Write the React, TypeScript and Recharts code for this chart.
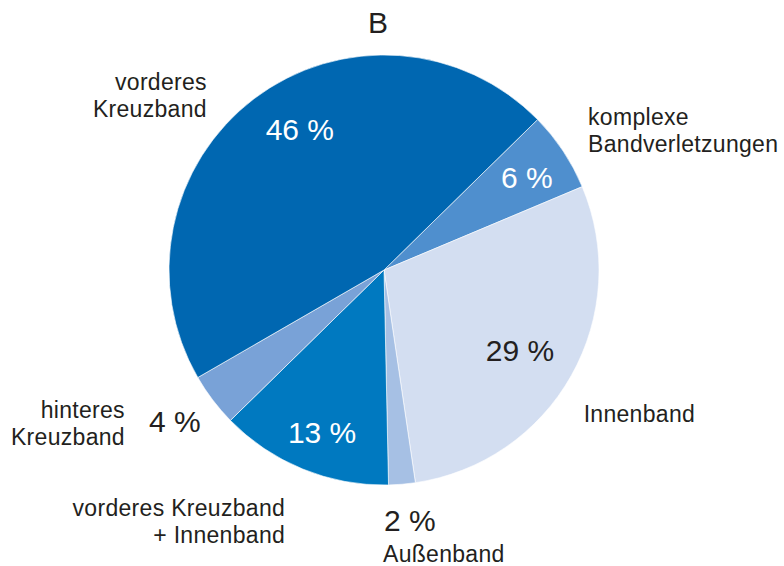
import { Cell, Pie, PieChart } from 'recharts'

// Slice order runs clockwise from the top-right boundary.
const categories = [
  ['komplexe', 'Bandverletzungen'],
  ['Innenband'],
  ['Außenband'],
  ['vorderes Kreuzband', '+ Innenband'],
  ['hinteres', 'Kreuzband'],
  ['vorderes', 'Kreuzband'],
]
const shares = [6, 29, 2, 13, 4, 46]

const COLORS = ['#4f8fce', '#d3def1', '#a6c0e4', '#0079c0', '#79a2d7', '#0067b1']
const PCT_COLORS = ['#ffffff', '#231f20', '#231f20', '#ffffff', '#231f20', '#ffffff']

// label placement in polar terms (degrees, radius relative to outerRadius)
const PCT_POS = [
  { angle: 32.8, r: 0.79 },
  { angle: -30.5, r: 0.734 },
  { angle: -84.1, r: 1.169 },
  { angle: -110.9, r: 0.807 },
  { angle: -144.0, r: 1.202 },
  { angle: 121.0, r: 0.76 },
]
const NAME_POS = [
  { angle: 34.3, r: 1.149, anchor: 'start' },
  { angle: -35.8, r: 1.145, anchor: 'start' },
  { angle: -90.2, r: 1.322, anchor: 'start' },
  { angle: -111.5, r: 1.255, anchor: 'end' },
  { angle: -149.4, r: 1.4, anchor: 'end' },
  { angle: 135.5, r: 1.155, anchor: 'end' },
]

const rows = shares.map((v, i) => ({ name: categories[i].join(' '), value: v }))

const FONT = '"Liberation Sans", Arial, sans-serif'
const RAD = Math.PI / 180

function polar(cx: number, cy: number, r: number, deg: number) {
  return { x: cx + r * Math.cos(deg * RAD), y: cy - r * Math.sin(deg * RAD) }
}

function renderLabel(props: any) {
  const { cx, cy, outerRadius, index } = props
  const p = PCT_POS[index]
  const n = NAME_POS[index]
  const pt = polar(cx, cy, outerRadius * p.r, p.angle)
  const nt = polar(cx, cy, outerRadius * n.r, n.angle)
  const lines = categories[index]
  const lh = 27
  return (
    <g key={index}>
      <text
        x={pt.x}
        y={pt.y}
        textAnchor="middle"
        dominantBaseline="central"
        fill={PCT_COLORS[index]}
        fontSize={30}
        fontFamily={FONT}
      >
        {shares[index]} %
      </text>
      {lines.map((line, j) => (
        <text
          key={j}
          x={nt.x}
          y={nt.y + (j - (lines.length - 1) / 2) * lh}
          textAnchor={n.anchor as any}
          dominantBaseline="central"
          fill="#231f20"
          fontSize={23}
          letterSpacing={0.3}
          fontFamily={FONT}
        >
          {line}
        </text>
      ))}
    </g>
  )
}

export default function App() {
  return (
    <div style={{ position: 'absolute', left: 0, top: 0, width: 784, height: 566, background: '#fff' }}>
      <div
        style={{
          position: 'absolute',
          left: 0,
          width: 756,
          top: 6,
          textAlign: 'center',
          fontFamily: FONT,
          fontSize: 30,
          color: '#231f20',
        }}
      >
        B
      </div>
      <PieChart width={784} height={566} margin={{ top: 0, right: 0, bottom: 0, left: 0 }}>
        <Pie
          data={rows}
          dataKey="value"
          nameKey="name"
          cx={384}
          cy={270}
          outerRadius={215}
          startAngle={44.4}
          endAngle={-315.6}
          stroke="#ffffff"
          strokeWidth={0.6}
          label={renderLabel}
          labelLine={false}
          isAnimationActive={false}
        >
          {rows.map((_, i) => (
            <Cell key={i} fill={COLORS[i]} />
          ))}
        </Pie>
      </PieChart>
    </div>
  )
}
